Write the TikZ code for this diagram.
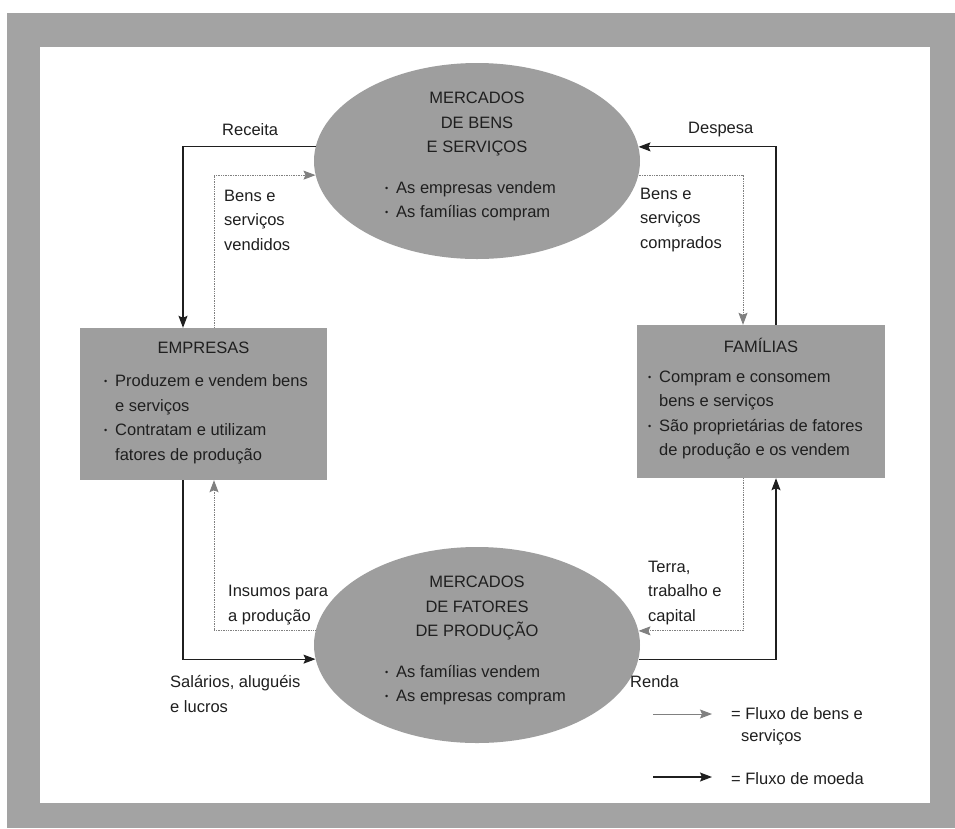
\documentclass[tikz,border=0pt]{standalone}
\usepackage{fontspec}
\setmainfont{Liberation Sans}
\usepackage{graphicx}
\usetikzlibrary{arrows.meta,shapes.geometric,calc}

\definecolor{framegray}{gray}{0.64}
\definecolor{fillgray}{gray}{0.62}
\definecolor{inkgray}{gray}{0.12}
\definecolor{goodsgray}{gray}{0.5}

\newcommand\itemdot{\makebox[11pt][l]{\raisebox{2pt}{\scalebox{0.55}{•}}}}

\tikzset{
  market/.style={ellipse, fill=fillgray, minimum width=326pt, minimum height=196pt, inner sep=0pt},
  agent/.style={rectangle, fill=fillgray, minimum width=247pt, minimum height=152pt, inner sep=0pt},
  txt/.style={inner sep=0pt, text=inkgray, font=\fontsize{16.5}{24.5}\selectfont},
  money/.style={line width=1.1pt, draw=inkgray, -{Stealth[length=12pt,width=9pt,inset=2pt]}},
  goods/.style={line width=0.9pt, draw=goodsgray, dash pattern=on 1pt off 0.7pt,
    -{Stealth[length=12pt,width=9pt,inset=2pt,fill=goodsgray]}}
}

\begin{document}
\begin{tikzpicture}[x=1pt,y=-1pt]
  \useasboundingbox (0,0) rectangle (955,828);
  % frame
  \fill[framegray] (7,13) rectangle (955,828);
  \fill[white] (40,47) rectangle (930,803);

  % markets and agents
  \node[market] (mbens) at (477,161) {};
  \node[market] (mfat) at (477,645) {};
  \node[agent] (empresas) at (203.5,404) {};
  \node[agent, minimum width=248pt, minimum height=153pt] (familias) at (761,401.5) {};

  \node[txt, align=center] (mbensT) at (477,124) {MERCADOS\\DE BENS\\E SERVIÇOS};
  \node[txt, align=left, anchor=west] (mbensL) at (385,201) {\itemdot As empresas vendem\\\itemdot As famílias compram};
  \node[txt, align=center] (mfatT) at (477,608) {MERCADOS\\DE FATORES\\DE PRODUÇÃO};
  \node[txt, align=left, anchor=west] (mfatL) at (385,685) {\itemdot As famílias vendem\\\itemdot As empresas compram};

  \node[txt] (empresasT) at (203.5,348) {EMPRESAS};
  \node[txt, align=left, anchor=west] (empresasL) at (104,419.5) {\itemdot Produzem e vendem bens\\\hspace*{11pt}e serviços\\\itemdot Contratam e utilizam\\\hspace*{11pt}fatores de produção};
  \node[txt] (familiasT) at (761,345) {FAMÍLIAS};
  \node[txt, align=left, anchor=west] (familiasL) at (648,415) {\itemdot Compram e consomem\\\hspace*{11pt}bens e serviços\\\itemdot São proprietárias de fatores\\\hspace*{11pt}de produção e os vendem};

  % flows
  \draw[money] (mbens.175) -| ([xshift=-20.5pt]empresas.north);
  \draw[goods] ([xshift=10.5pt]empresas.north) |- (mbens.185);
  \draw[money] ([xshift=15pt]familias.north) |- (mbens.5);
  \draw[goods] (mbens.355) -| ([xshift=-18pt]familias.north);
  \draw[goods] (mfat.175) -| ([xshift=10.5pt]empresas.south);
  \draw[money] ([xshift=-20.5pt]empresas.south) |- (mfat.185);
  \draw[goods] ([xshift=-18pt]familias.south) |- (mfat.5);
  \draw[money] (mfat.355) -| ([xshift=15pt]familias.south);

  % flow labels
  \node[txt, anchor=west] (receita) at (222,130) {Receita};
  \node[txt, anchor=west] (despesa) at (688,130) {Despesa};
  \node[txt, align=left, anchor=west] (vendidos) at (224,220) {Bens e\\serviços\\vendidos};
  \node[txt, align=left, anchor=west] (comprados) at (640,220) {Bens e\\serviços\\comprados};
  \node[txt, align=left, anchor=west] (insumos) at (228,605) {Insumos para\\a produção};
  \node[txt, align=left, anchor=west] (terra) at (648,593) {Terra,\\trabalho e\\capital};
  \node[txt, align=left, anchor=west] (salarios) at (170,694) {Salários, aluguéis\\e lucros};
  \node[txt, anchor=west] (renda) at (630,682) {Renda};

  % legend
  \node[txt, anchor=west] (lgGoods) at (731,714) {= Fluxo de bens e};
  \node[txt, anchor=west] (lgGoods2) at (741,737) {serviços};
  \node[txt, anchor=west] (lgMoney) at (731,779) {= Fluxo de moeda};
  \coordinate (lgGoodsA) at (653,714);
  \coordinate (lgMoneyA) at (653,777);
  \draw[goods, solid] (lgGoodsA) -- ([xshift=-19pt]lgGoods.west);
  \draw[money] (lgMoneyA) -- ([xshift=-19pt,yshift=2pt]lgMoney.west);
\end{tikzpicture}
\end{document}
